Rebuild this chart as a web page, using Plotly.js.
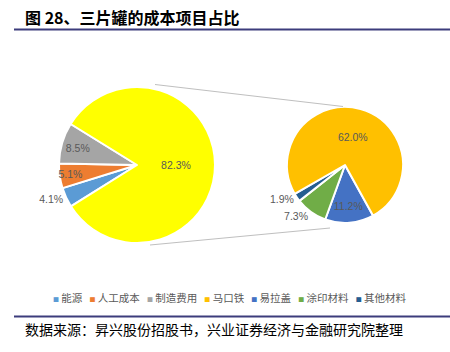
<!DOCTYPE html>
<html>
<head>
<meta charset="utf-8">
<script src="https://cdn.plot.ly/plotly-3.0.1.min.js"></script>
<style>html,body{margin:0;padding:0;background:#fff;}#chart{width:450px;height:352px;}</style>
</head>
<body>
<div id="chart"></div>
<script>
// ---- data ----
const leftLabels = ['能源', '人工成本', '制造费用', '材料合计'];
const leftValues = [4.1, 5.1, 8.5, 82.3];
const rightLabels = ['易拉盖', '涂印材料', '其他材料', '马口铁'];
const rightValues = [11.2, 7.3, 1.9, 62.0];
const legendLabels = ['能源', '人工成本', '制造费用', '马口铁', '易拉盖', '涂印材料', '其他材料'];

// ---- styles ----
const colorMap = {
  '能源': '#5B9BD5', '人工成本': '#ED7D31', '制造费用': '#A5A5A5', '材料合计': '#FFFF00',
  '马口铁': '#FFC000', '易拉盖': '#4472C4', '涂印材料': '#70AD47', '其他材料': '#255E91'
};
const W = 450, H = 352;
const px = x => x / W, py = y => 1 - y / H;
const leftPie = {cx: 137, cy: 165, r: 78};
const rightPie = {cx: 345, cy: 165, r: 58};
const dom = p => ({x: [px(p.cx - p.r), px(p.cx + p.r)], y: [py(p.cy + p.r), py(p.cy - p.r)]});
const labelFont = {family: 'Liberation Sans, Arial, sans-serif', size: 10.5, color: '#595959'};

const traces = [
  {
    type: 'pie', labels: leftLabels, values: leftValues, sort: false,
    direction: 'clockwise', rotation: 238, domain: dom(leftPie),
    marker: {colors: leftLabels.map(l => colorMap[l]), line: {color: '#ffffff', width: 2}},
    texttemplate: '%{value:.1f}%', textposition: ['outside', 'inside', 'inside', 'inside'],
    insidetextorientation: 'horizontal', textfont: labelFont, insidetextfont: labelFont, outsidetextfont: labelFont,
    hoverinfo: 'skip', showlegend: false
  },
  {
    type: 'pie', labels: rightLabels, values: rightValues, sort: false,
    direction: 'clockwise', rotation: 151, domain: dom(rightPie),
    marker: {colors: rightLabels.map(l => colorMap[l]), line: {color: '#ffffff', width: 2}},
    texttemplate: '%{value:.1f}%', textposition: ['inside', 'outside', 'outside', 'inside'],
    insidetextorientation: 'horizontal', textfont: labelFont, insidetextfont: labelFont, outsidetextfont: labelFont,
    hoverinfo: 'skip', showlegend: false
  }
];

const legendText = legendLabels.map(l =>
  '<span style="color:' + colorMap[l] + ';font-size:6px">■</span> ' + l
).join('&nbsp;&nbsp;&nbsp;');

const rule = '#3C3C7C';
const connector = '#BFBFBF';
const layout = {
  width: W, height: H,
  margin: {l: 0, r: 0, t: 0, b: 0},
  paper_bgcolor: '#ffffff',
  showlegend: false,
  uniformtext: {mode: 'show', minsize: 10.5},
  shapes: [
    {type: 'line', xref: 'paper', yref: 'paper', x0: px(14), x1: px(450), y0: py(29.5), y1: py(29.5), line: {color: rule, width: 2}},
    {type: 'line', xref: 'paper', yref: 'paper', x0: px(14), x1: px(450), y0: py(316.5), y1: py(316.5), line: {color: rule, width: 2}},
    {type: 'line', xref: 'paper', yref: 'paper', x0: px(155), x1: px(rightPie.cx - 2), y0: py(84.5), y1: py(rightPie.cy - rightPie.r - 0.5), line: {color: connector, width: 1}},
    {type: 'line', xref: 'paper', yref: 'paper', x0: px(150), x1: px(330), y0: py(245), y1: py(228), line: {color: connector, width: 1}}
  ],
  annotations: [
    {text: '<b>图 28、三片罐的成本项目占比</b>', xref: 'paper', yref: 'paper', x: px(23), y: py(17.5),
     xanchor: 'left', yanchor: 'middle', showarrow: false,
     font: {family: 'Noto Sans CJK SC, sans-serif', size: 16, color: '#000000'}},
    {text: legendText, xref: 'paper', yref: 'paper', x: px(230), y: py(297),
     xanchor: 'center', yanchor: 'middle', showarrow: false,
     font: {family: 'Noto Sans CJK SC, sans-serif', size: 10.5, color: '#595959'}},
    {text: '数据来源：昇兴股份招股书，兴业证券经济与金融研究院整理', xref: 'paper', yref: 'paper', x: px(23), y: py(329),
     xanchor: 'left', yanchor: 'middle', showarrow: false,
     font: {family: 'Noto Sans CJK SC, sans-serif', size: 14, color: '#000000'}}
  ]
};

Plotly.newPlot('chart', traces, layout, {displayModeBar: false, staticPlot: true});
</script>
</body>
</html>
